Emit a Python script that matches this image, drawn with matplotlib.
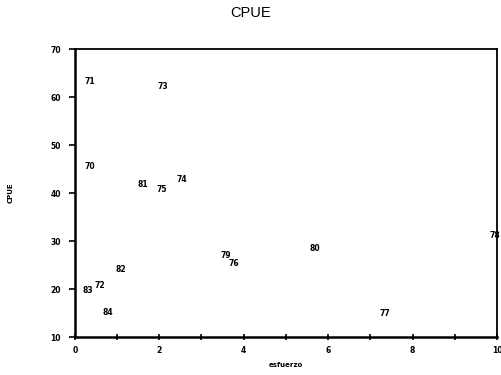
import matplotlib
matplotlib.use('Agg')
import matplotlib.pyplot as plt
from matplotlib.ticker import MultipleLocator

# year labels are drawn as the points themselves
years = ['71', '73', '70', '81', '75', '74', '79', '76', '80', '78', '82', '72', '83', '84', '77']
esfuerzo = [0.36, 2.09, 0.36, 1.61, 2.06, 2.54, 3.58, 3.76, 5.69, 9.95, 1.09, 0.59, 0.31, 0.78, 7.35]
cpue = [63.2, 62.3, 45.5, 41.8, 40.7, 42.8, 27.1, 25.3, 28.5, 31.2, 24.1, 20.8, 19.8, 15.2, 15.0]

fig = plt.figure(figsize=(5.02, 3.75), dpi=100)
ax = fig.add_axes([0.149, 0.101, 0.841, 0.768])

for x, y, lab in zip(esfuerzo, cpue, years):
    ax.text(x, y, lab, fontsize=5.5, fontweight='bold', ha='center', va='center')

ax.set_xlim(0, 10)
ax.set_ylim(10, 70)
ax.xaxis.set_major_locator(MultipleLocator(2))
ax.xaxis.set_minor_locator(MultipleLocator(1))
ax.yaxis.set_major_locator(MultipleLocator(10))

ax.tick_params(axis='x', which='both', direction='inout', length=5, width=1.2, labelsize=5.5, pad=4)
ax.tick_params(axis='y', which='both', direction='out', length=4, width=1.2, labelsize=5.5, pad=6)
for lab in ax.get_xticklabels() + ax.get_yticklabels():
    lab.set_fontweight('bold')

for side in ['left', 'bottom']:
    ax.spines[side].set_linewidth(1.8)
for side in ['top', 'right']:
    ax.spines[side].set_linewidth(1.3)

ax.set_xlabel('esfuerzo', fontsize=5, fontweight='bold', labelpad=5)
ax.set_ylabel('CPUE', fontsize=5, fontweight='bold')
ax.yaxis.set_label_coords(-0.145, 0.5)
fig.suptitle('CPUE', fontsize=10.5, family='Liberation Sans', y=0.985)

plt.savefig('out.png', dpi=100)
